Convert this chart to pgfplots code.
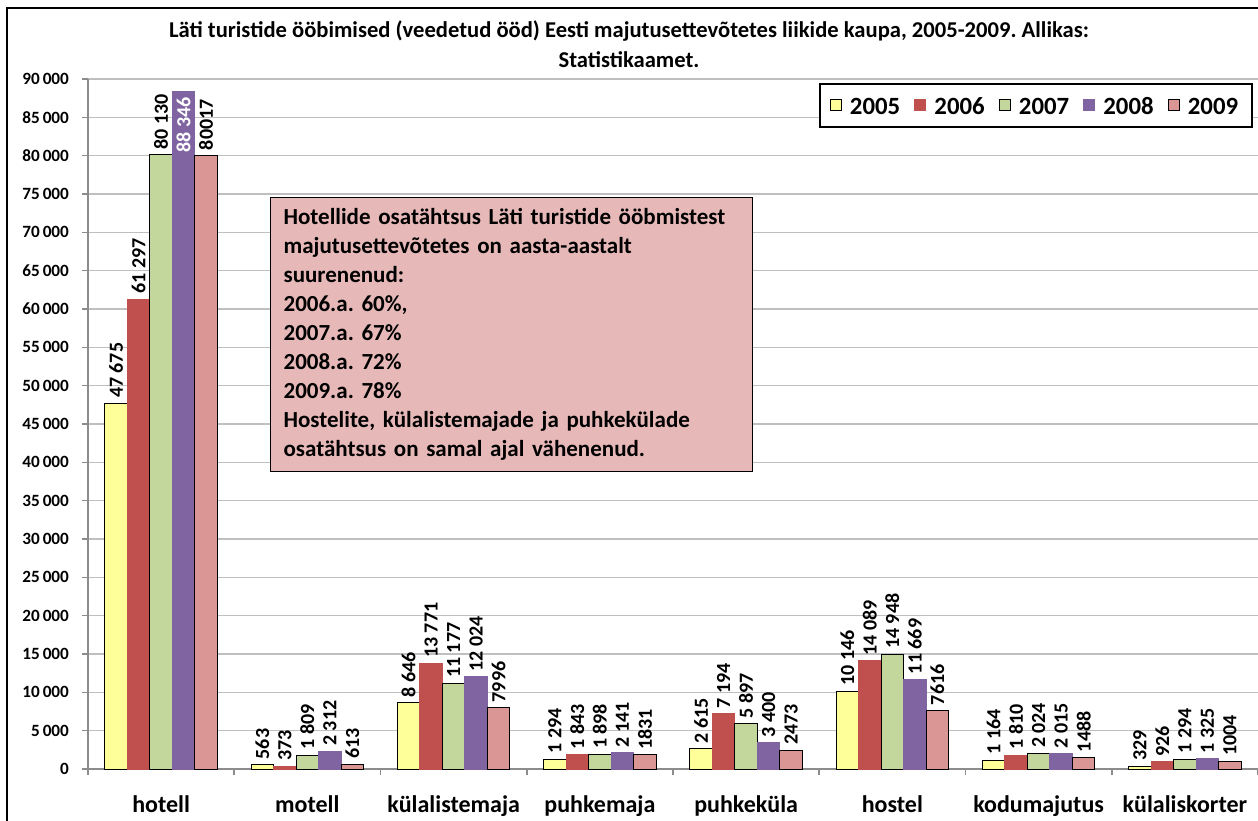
\documentclass[border=0pt]{standalone}
\usepackage{pgfplots}
\pgfplotsset{compat=1.18}
\usepackage{fontspec}
\setmainfont{Carlito}
\definecolor{c05}{HTML}{FFFF99}
\definecolor{c06}{HTML}{C0504D}
\definecolor{c07}{HTML}{C3D69B}
\definecolor{c08}{HTML}{8064A2}
\definecolor{c09}{HTML}{D99694}
\definecolor{boxfill}{HTML}{E6B9B8}
\definecolor{gridgray}{HTML}{BFBFBF}
\definecolor{axgray}{HTML}{8C8C8C}

\begin{document}
\frenchspacing
\begin{tikzpicture}
\useasboundingbox (-44pt,-25.5pt) rectangle (585pt,384.5pt);
\draw[line width=1pt] (-40.5pt,-30pt) -- (-40.5pt,380.5pt) -- (590pt,380.5pt);
\node[font=\bfseries\fontsize{11.3}{15}\selectfont, align=center] at (270.5pt,362.5pt)
  {Läti turistide ööbimised (veedetud ööd) Eesti majutusettevõtetes liikide kaupa, 2005-2009. Allikas:\\Statistikaamet.};
\begin{axis}[
    scale only axis, width=585pt, height=345pt,
    ybar=0pt, bar width=0.154,
    xmin=-0.5, xmax=7.5, ymin=0, ymax=90000,
    axis x line*=bottom, axis y line*=left,
    axis line style={-, axgray, line width=1pt},
    xtick={-0.5,0.5,...,7.5}, xticklabels={},
    extra x ticks={0,...,7},
    extra x tick labels={hotell,motell,külalistemaja,puhkemaja,puhkeküla,hostel,kodumajutus,külaliskorter},
    extra x tick style={major tick length=0pt, grid=none},
    xticklabel style={font=\bfseries\fontsize{12}{14}\selectfont, yshift=-10pt},
    ytick distance=5000, scaled y ticks=false,
    tick align=outside, major tick length=3pt,
    tick style={axgray, line width=0.8pt},
    yticklabel style={font=\bfseries\fontsize{8.6}{10}\selectfont, xshift=-3pt},
    /pgf/number format/.cd, 1000 sep={\,}, assume math mode=true, /pgfplots/.cd,
    ymajorgrids, grid style={gridgray, line width=0.8pt},
    legend columns=5,
    legend style={at={(0.9957,0.994)}, anchor=north east, draw=black, line width=0.8pt,
        font=\bfseries\fontsize{12.4}{14}\selectfont, inner xsep=5pt, inner ysep=4.5pt,
        nodes={anchor=base west, text height=8.6pt, text depth=0pt},
        /tikz/every odd column/.append style={column sep=2pt},
        /tikz/every even column/.append style={column sep=5pt}},
    legend image code/.code={\draw[#1, line width=0.5pt] (0pt,1.6pt) rectangle (5.6pt,7.2pt);},
    nodes near coords, point meta=explicit symbolic,
    every node near coord/.append style={rotate=90, anchor=west, text=black,
        font=\bfseries\fontsize{10}{11}\selectfont, inner sep=2.5pt},
]
\addplot[fill=c05, draw=black, line width=0.5pt] coordinates {
  (0,47675) [47 675] (1,563) [563] (2,8646) [8 646] (3,1294) [1 294]
  (4,2615) [2 615] (5,10146) [10 146] (6,1164) [1 164] (7,329) [329]};
\addplot[fill=c06, draw=c06, line width=0.5pt] coordinates {
  (0,61297) [61 297] (1,373) [373] (2,13771) [13 771] (3,1843) [1 843]
  (4,7194) [7 194] (5,14089) [14 089] (6,1810) [1 810] (7,926) [926]};
\addplot[fill=c07, draw=black, line width=0.5pt] coordinates {
  (0,80130) [80 130] (1,1809) [1 809] (2,11177) [11 177] (3,1898) [1 898]
  (4,5897) [5 897] (5,14948) [14 948] (6,2024) [2 024] (7,1294) [1 294]};
\addplot[fill=c08, draw=c08, line width=0.5pt] coordinates {
  (0,88346) [] (1,2312) [2 312] (2,12024) [12 024] (3,2141) [2 141]
  (4,3400) [3 400] (5,11669) [11 669] (6,2015) [2 015] (7,1325) [1 325]};
\addplot[fill=c09, draw=black, line width=0.5pt] coordinates {
  (0,80017) [80017] (1,613) [613] (2,7996) [7996] (3,1831) [1831]
  (4,2473) [2473] (5,7616) [7616] (6,1488) [1488] (7,1004) [1004]};
\legend{2005,2006,2007,2008,2009}
% label of the tallest bar sits inside it, in white
\addplot[forget plot, draw=none, fill=none, bar shift=0.154,
    every node near coord/.append style={anchor=east, text=white}] coordinates {
  (0,88346) [88 346]};
\end{axis}
\node[draw=black, line width=0.6pt, fill=boxfill, anchor=north west, minimum width=240pt,
    minimum height=137pt, text width=228pt, align=left, inner xsep=6.5pt, inner ysep=5pt,
    font=\bfseries\fontsize{11.5}{14.5}\selectfont] at (91pt,286pt)
  {Hotellide osatähtsus Läti turistide ööbmistest\\
   majutusettevõtetes on aasta-aastalt\\
   suurenenud:\\
   2006.a. 60\%,\\
   2007.a. 67\%\\
   2008.a. 72\%\\
   2009.a. 78\%\\
   Hostelite, külalistemajade ja puhkekülade\\
   osatähtsus on samal ajal vähenenud.};
\end{tikzpicture}
\end{document}
